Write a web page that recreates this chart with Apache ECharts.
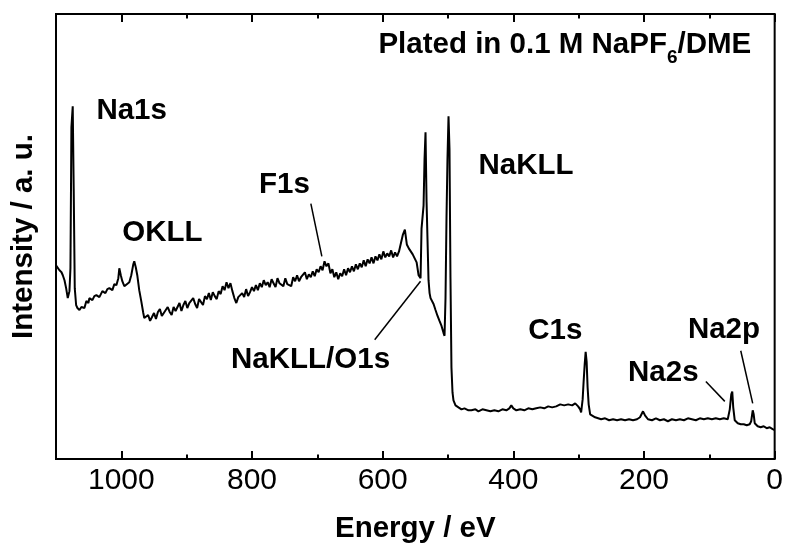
<!DOCTYPE html>
<html>
<head>
<meta charset="utf-8">
<script src="https://cdn.jsdelivr.net/npm/echarts@6/dist/echarts.min.js"></script>
<style>
    html, body { margin: 0; padding: 0; background: #fff; }
    #chart { width: 786px; height: 549px; }
</style>
</head>
<body>
<div id="chart"></div>
<script>
// XPS survey, binding energy (eV) vs intensity (a. u.)
// high energy first

// Na1s + OKLL region
const na1sOkll = [
    [1100, 195], [1097.7, 193], [1094.7, 190], [1091.6, 188], [1089.6, 185], [1087, 180],
    [1084.5, 172], [1082, 162], [1079.4, 169], [1077.9, 192], [1076.4, 334], [1074.4, 355],
    [1072.9, 272], [1071.3, 172], [1069.2, 155], [1067.2, 152], [1064.1, 150], [1061.1, 153],
    [1059.6, 155], [1056.5, 152], [1053.5, 159], [1050.4, 157], [1048.9, 162], [1044.3, 160],
    [1041.3, 164], [1038.2, 165], [1033.6, 163], [1029, 169], [1024.4, 167], [1021.4, 171],
    [1018.3, 172], [1013.7, 170], [1010.7, 176], [1007.6, 175], [1004.6, 182], [1003.1, 192],
    [1000.8, 185], [998.5, 179], [995.4, 174], [992.4, 172], [987.8, 178], [984.8, 185],
    [981.7, 196], [980.2, 199], [977.9, 193], [975.6, 185], [972.6, 170], [969.5, 159],
    [966.4, 147], [964.9, 142]
]

// noisy sloping background up to the O1s edge (F1s in the middle)
const background = [
    [962, 140], [959, 145], [956, 139], [953, 143], [950, 147], [947, 141], [944, 148],
    [941, 151], [938, 144], [935, 147], [932, 145], [929, 153], [926, 148], [923, 145],
    [920, 153], [917, 149], [914, 151], [911, 157], [908, 149], [905, 155], [902, 159],
    [899, 152], [896, 157], [893, 155], [890, 162], [887, 156], [884, 152], [881, 161],
    [878, 159], [875, 155], [872, 164], [869, 161], [866, 167], [863, 160], [860, 168],
    [857, 164], [854, 161], [851, 169], [848, 166], [845, 174], [842, 170], [839, 178],
    [836, 172], [833, 177], [830, 169], [827, 162], [824, 157], [821, 163], [818, 161],
    [815, 167], [812, 163], [809, 171], [806, 164], [803, 168], [800, 173], [797, 169],
    [794, 175], [791, 170], [788, 177], [785, 173], [782, 180], [779, 175], [776, 178],
    [773, 173], [770, 181], [767, 177], [764, 173], [761, 182], [758, 177], [755, 179],
    [752, 174], [749, 182], [746, 176], [743, 178], [740, 174], [737, 183], [734, 179],
    [731, 185], [728, 179], [725, 183], [722, 181], [719, 188], [716, 181], [713, 186],
    [710, 183], [707, 189], [704, 184], [701, 191], [698, 188], [695, 194], [692, 190],
    [689, 199], [686, 194], [683, 197], [680, 187], [677, 191], [674, 183], [671, 188],
    [668, 181], [665, 187], [662, 184], [659, 191], [656, 185], [653, 192], [650, 188],
    [647, 194], [644, 189], [641, 196], [638, 191], [635, 197], [632, 193], [629, 200],
    [626, 194], [623, 201], [620, 197], [617, 203], [614, 197], [611, 204], [608, 200],
    [605, 206], [602, 201], [599, 209], [596, 203], [593, 207], [590, 204], [587, 210],
    [584, 203], [581, 208], [578, 204], [575, 209], [572, 210], [569, 226], [566, 231],
    [563, 216], [560, 212], [557, 214], [554, 206], [551, 202], [548, 198]
]

// O1s and NaKLL peaks
const o1sNakll = [
    [545, 185], [542, 182], [540.5, 232], [537.4, 255], [535.9, 302], [534.4, 329],
    [532.8, 259], [529.8, 180], [528.2, 167], [526.7, 162], [525.2, 164], [522.1, 156],
    [519.1, 150], [516, 144], [513, 139], [509.9, 134], [506.9, 127], [505.3, 124],
    [503.8, 162], [502.3, 242], [500.8, 302], [499.2, 345], [497.7, 312], [496.2, 182],
    [494.7, 92], [493.1, 67], [491.6, 59], [488.5, 54], [484, 52]
]

// flat part down to C1s
const c1sRegion = [
    [479.4, 50], [474.8, 51], [468.7, 49], [464.1, 49], [458, 50], [453.4, 48],
    [447.3, 50], [441.2, 49], [435.1, 48], [429, 49], [422.9, 48], [416.8, 50],
    [410.7, 49], [406.1, 51], [403.1, 54], [400, 51], [395.4, 49], [389.3, 50],
    [383.2, 49], [377.1, 51], [371, 50], [364.9, 51], [358.8, 52], [352.7, 51],
    [346.6, 53], [340.5, 52], [334.4, 53], [328.2, 55], [322.1, 54], [316, 55],
    [309.9, 54], [305.3, 56], [300.8, 53], [297.7, 50], [296.2, 47], [293.9, 60],
    [292.4, 78], [290.8, 95], [289.3, 108], [287.8, 98], [286.3, 72], [284.7, 55],
    [282.4, 45]
]

// low energy end, Na2s and Na2p
const na2Region = [
    [279.4, 43], [274.8, 42], [270.2, 41], [265.6, 40], [259.5, 41], [253.4, 39],
    [247.3, 40], [241.2, 39], [235.1, 40], [229, 39], [222.9, 40], [216.8, 39],
    [210.7, 40], [206.1, 42], [201.5, 48], [198.5, 44], [193.9, 40], [187.8, 39],
    [181.7, 41], [175.6, 39], [169.5, 40], [163.4, 38], [157.3, 40], [151.1, 39],
    [145, 40], [138.9, 39], [132.8, 41], [126.7, 40], [120.6, 39], [114.5, 41],
    [108.4, 40], [102.3, 41], [96.2, 40], [90.1, 41], [84, 40], [77.9, 41],
    [71.8, 40], [68.7, 50], [66.4, 65], [64.9, 68], [63.4, 52], [61.1, 39],
    [56.5, 36], [51.9, 35], [47.3, 35], [42.7, 34], [38.2, 35], [35.9, 38],
    [33.6, 49], [32.1, 45], [30.5, 36], [26, 33], [21.4, 32], [16.8, 33],
    [12.2, 31], [7.6, 32], [3.1, 30], [0, 29]
]

const spectrum = [].concat(na1sOkll, background, o1sNakll, c1sRegion, na2Region)

// peak labels: text, [energy, intensity] of left edge / middle of the caps
const peakLabels = [
    ["Na1s", [1038.2, 350]],
    ["OKLL", [998.5, 227.5]],
    ["F1s", [789.3, 276]],
    ["NaKLL", [453.4, 295]],
    ["NaKLL/O1s", [832.1, 99.5]],
    ["C1s", [377.1, 129.5]],
    ["Na2s", [224.4, 87]],
    ["Na2p", [132.8, 130]],
]

// leader lines: from, to
const leaders = [
    [[709.9, 257], [693.1, 204]],
    [[612.2, 120], [542.0, 179]],
    [[105.3, 78], [76.3, 58]],
    [[51.9, 109], [33.6, 56]],
]

const FONT = '"Liberation Sans", Arial, Helvetica, sans-serif'
const LABEL_SIZE = 29.5
const myChart = echarts.init(document.getElementById("chart"), null, { renderer: "canvas" })

function xAxisDef(position, interval, tickLen, showLabel) {
    return {
        type: "value",
        position: position,
        min: 0,
        max: 1100,
        interval: interval,
        inverse: true,
        axisLine: { show: false },
        splitLine: { show: false },
        axisTick: {
            show: true,
            inside: true,
            length: tickLen,
            lineStyle: { color: "#000", width: 2 },
        },
        axisLabel: {
            show: showLabel,
            showMaxLabel: false,
            margin: 7,
            color: "#000",
            fontSize: 30,
            fontFamily: FONT,
            formatter: v => String(v),
        },
    }
}

const xMain = xAxisDef("bottom", 200, 8, true)
xMain.name = "Energy / eV"
xMain.nameLocation = "middle"
xMain.nameGap = 55
xMain.nameTextStyle = { color: "#000", fontSize: LABEL_SIZE, fontWeight: "bold", fontFamily: FONT }

const option = {
    backgroundColor: "#fff",
    animation: false,
    grid: {
        left: 56,
        right: 9,
        top: 14,
        bottom: 87,
        show: true,
        borderColor: "#000",
        borderWidth: 2,
    },
    xAxis: [
        xMain,
        xAxisDef("bottom", 100, 4.5, false),
        xAxisDef("top", 200, 8, false),
        xAxisDef("top", 100, 4.5, false),
    ],
    yAxis: {
        type: "value",
        min: 0,
        max: 448,
        name: "Intensity / a. u.",
        nameLocation: "middle",
        nameRotate: 90,
        nameGap: 17,
        nameTextStyle: { color: "#000", fontSize: LABEL_SIZE, fontWeight: "bold", fontFamily: FONT },
        axisLine: { show: false },
        axisTick: { show: false },
        axisLabel: { show: false },
        splitLine: { show: false },
    },
    series: [
        {
            type: "line",
            xAxisIndex: 0,
            yAxisIndex: 0,
            data: spectrum,
            showSymbol: false,
            lineStyle: { color: "#000", width: 2 },
            z: 3,
        },
    ],
}

myChart.setOption(option, true)

// annotations placed through the axes
const toPx = p => myChart.convertToPixel({ xAxisIndex: 0, yAxisIndex: 0 }, p)
const graphics = []

peakLabels.forEach(([txt, at]) => {
    const [x, y] = toPx(at)
    graphics.push({
        type: "text",
        x: x,
        y: y,
        style: {
            text: txt,
            fill: "#000",
            fontSize: LABEL_SIZE,
            fontWeight: "bold",
            fontFamily: FONT,
            align: "left",
            verticalAlign: "middle",
        },
    })
})

leaders.forEach(([a, b]) => {
    const [x1, y1] = toPx(a)
    const [x2, y2] = toPx(b)
    graphics.push({
        type: "line",
        shape: { x1, y1, x2, y2 },
        style: { stroke: "#000", lineWidth: 1.5 },
    })
})

// sample label with subscript 6
const ctx = document.createElement("canvas").getContext("2d")
ctx.font = "bold 19px " + FONT
const subW = ctx.measureText("6").width
const [sx, sy] = toPx([164.9, 417])
const [, subY] = toPx([164.9, 403.5])
const boldStyle = { fill: "#000", fontSize: LABEL_SIZE, fontWeight: "bold", fontFamily: FONT, verticalAlign: "middle" }
graphics.push(
    { type: "text", x: sx, y: sy, style: Object.assign({ text: "Plated in 0.1 M NaPF", align: "right" }, boldStyle) },
    { type: "text", x: sx, y: subY, style: Object.assign({}, boldStyle, { text: "6", fontSize: 19, align: "left" }) },
    { type: "text", x: sx + subW, y: sy, style: Object.assign({ text: "/DME", align: "left" }, boldStyle) }
)

myChart.setOption({ graphic: graphics })
</script>
</body>
</html>
